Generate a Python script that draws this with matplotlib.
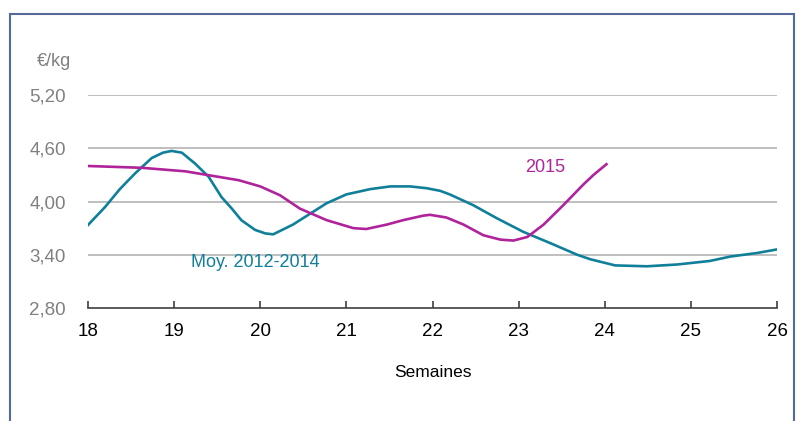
import matplotlib.pyplot as plt
from matplotlib.patches import Rectangle

plt.rcParams['font.family'] = ['Liberation Sans', 'DejaVu Sans']

# Moy. 2012-2014 (semaines, EUR/kg)
moy_x = [18.0, 18.2, 18.37, 18.55, 18.74, 18.87, 18.97, 19.09, 19.24, 19.4, 19.55,
         19.67, 19.78, 19.94, 20.06, 20.15, 20.38, 20.77, 21.0, 21.28, 21.51, 21.74,
         21.93, 22.09, 22.2, 22.47, 22.75, 23.05, 23.37, 23.68, 23.83, 24.12, 24.49,
         24.84, 25.22, 25.46, 25.77, 26.0]
moy_y = [3.735, 3.94, 4.14, 4.32, 4.49, 4.55, 4.57, 4.55, 4.43, 4.28, 4.05,
         3.92, 3.79, 3.68, 3.64, 3.63, 3.74, 3.98, 4.08, 4.14, 4.17, 4.17,
         4.15, 4.12, 4.08, 3.96, 3.81, 3.66, 3.53, 3.40, 3.35, 3.28, 3.27,
         3.29, 3.33, 3.38, 3.42, 3.46]

# 2015
y15_x = [18.0, 18.62, 19.13, 19.75, 20.0, 20.23, 20.46, 20.77, 21.08, 21.23, 21.47,
         21.66, 21.89, 21.97, 22.16, 22.36, 22.59, 22.79, 22.94, 23.1, 23.29, 23.52,
         23.75, 23.87, 24.02]
y15_y = [4.40, 4.38, 4.34, 4.24, 4.17, 4.07, 3.92, 3.79, 3.70, 3.69, 3.74,
         3.79, 3.84, 3.85, 3.82, 3.74, 3.62, 3.57, 3.56, 3.60, 3.74, 3.96,
         4.19, 4.30, 4.42]

yticks = [2.80, 3.40, 4.00, 4.60, 5.20]
xticks = [18, 19, 20, 21, 22, 23, 24, 25, 26]

teal = '#10809a'
magenta = '#b0239a'

fig = plt.figure(figsize=(8.01, 4.21), dpi=100)
fig.patches.append(Rectangle((9.5 / 801, -0.05), 784 / 801, 1 - 13.5 / 421 + 0.05,
                             transform=fig.transFigure, fill=False,
                             edgecolor='#56699b', linewidth=1.5))
ax = fig.add_axes([88 / 801, 1 - 308 / 421, 689 / 801, 213 / 421])

for y in yticks[1:]:
    ax.axhline(y, color='#b4b4b4', linewidth=1.2, zorder=1)

ax.plot(moy_x, moy_y, color=teal, linewidth=1.9, zorder=3, solid_joinstyle='round')
ax.plot(y15_x, y15_y, color=magenta, linewidth=1.9, zorder=3, solid_joinstyle='round')

ax.set_xlim(18, 26)
ax.set_ylim(2.8, 5.2)
ax.set_xticks(xticks)
ax.set_xticklabels([str(x) for x in xticks], fontsize=13.5, color='black')
ax.set_yticks(yticks)
ax.set_yticklabels([f'{v:.2f}'.replace('.', ',') for v in yticks], fontsize=13.5, color='#808080')
ax.tick_params(axis='x', direction='in', length=5, width=1.2, color='#404040', pad=11)
ax.tick_params(axis='y', length=0, pad=16)

for s in ['top', 'right', 'left']:
    ax.spines[s].set_visible(False)
ax.spines['bottom'].set_color('#404040')
ax.spines['bottom'].set_linewidth(1.2)

ax.set_xlabel('Semaines', fontsize=12.5, labelpad=18)
fig.text(37 / 801, 1 - 61 / 421, '€/kg', fontsize=13, color='#808080', va='center')
ax.text(19.2, 3.31, 'Moy. 2012-2014', fontsize=13, color=teal, va='center')
ax.text(23.07, 4.38, '2015', fontsize=13, color=magenta, va='center')

fig.savefig('out.png', dpi=100)
